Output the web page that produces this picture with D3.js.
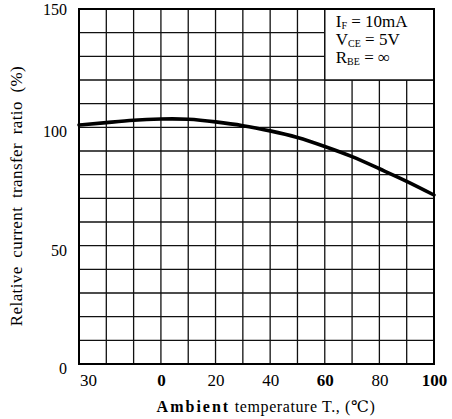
<!DOCTYPE html>
<html>
<head>
<meta charset="utf-8">
<script src="https://cdn.jsdelivr.net/npm/d3@7"></script>
<style>
  body { margin: 0; background: #fff; }
  svg { display: block; font-family: "Liberation Serif", "DejaVu Serif", serif; }
</style>
</head>
<body>
<div id="chart"></div>
<script>
var svgW = 452;
var svgH = 419;

// data
var temps = [-30, -20, -10, 0, 10, 20, 30, 40, 50, 60, 70, 80, 90, 100];
var ratio = [101, 102, 103, 103.5, 103.4, 102.3, 100.7, 98.5, 95.7, 91.9, 87.6, 82.5, 77.2, 71.4];

var xTicks = [-30, 0, 20, 40, 60, 80, 100];
var xTickLabels = ["30", "0", "20", "40", "60", "80", "100"];
var yTicks = [0, 50, 100, 150];
var yTickLabels = ["0", "50", "100", "150"];

var margin = { top: 9, right: 18, bottom: 55, left: 79 };
var width = svgW - margin.left - margin.right;
var height = svgH - margin.top - margin.bottom;

var svg = d3.select("#chart")
  .append("svg")
  .attr("width", svgW)
  .attr("height", svgH);

var chartGroup = svg.append("g")
  .attr("transform", `translate(${margin.left}, ${margin.top})`);

var xScale = d3.scaleLinear().domain([-30, 100]).range([0, width]);
var yScale = d3.scaleLinear().domain([0, 150]).range([height, 0]);

// grid every 10
chartGroup.append("g")
  .selectAll("line")
  .data(d3.range(-20, 100, 10))
  .enter()
  .append("line")
  .attr("x1", d => xScale(d))
  .attr("x2", d => xScale(d))
  .attr("y1", 0)
  .attr("y2", height)
  .attr("stroke", "#111")
  .attr("stroke-width", 1.3);

chartGroup.append("g")
  .selectAll("line")
  .data(d3.range(10, 150, 10))
  .enter()
  .append("line")
  .attr("x1", 0)
  .attr("x2", width)
  .attr("y1", d => yScale(d))
  .attr("y2", d => yScale(d))
  .attr("stroke", "#111")
  .attr("stroke-width", 1.3);

// legend box sits over the grid
chartGroup.append("rect")
  .attr("x", xScale(60))
  .attr("y", 0)
  .attr("width", xScale(100) - xScale(60))
  .attr("height", yScale(120))
  .attr("fill", "#fff")
  .attr("stroke", "#111")
  .attr("stroke-width", 1.5);

// frame
chartGroup.append("rect")
  .attr("width", width)
  .attr("height", height)
  .attr("fill", "none")
  .attr("stroke", "#000")
  .attr("stroke-width", 2);

// curve
var line = d3.line()
  .x((d, i) => xScale(temps[i]))
  .y(d => yScale(d))
  .curve(d3.curveNatural);

chartGroup.append("path")
  .datum(ratio)
  .attr("d", line)
  .attr("fill", "none")
  .attr("stroke", "#000")
  .attr("stroke-width", 3.6)
  .attr("stroke-linecap", "round");

// axes (labels only)
var bottomAxis = d3.axisBottom(xScale)
  .tickValues(xTicks)
  .tickSize(0)
  .tickPadding(10)
  .tickFormat((d, i) => xTickLabels[i]);

var xAxis = chartGroup.append("g")
  .attr("transform", `translate(0, ${height})`)
  .call(bottomAxis);

xAxis.select(".domain").remove();
xAxis.selectAll("text")
  .attr("font-family", "Liberation Serif")
  .attr("font-size", 17)
  .attr("fill", "#000")
  .attr("font-weight", d => (d === 0 || d === 60 || d === 100) ? "bold" : "normal")
  .attr("dx", d => d === -30 ? 9 : 0);

var leftAxis = d3.axisLeft(yScale)
  .tickValues(yTicks)
  .tickSize(0)
  .tickPadding(12)
  .tickFormat((d, i) => yTickLabels[i]);

var yAxis = chartGroup.append("g").call(leftAxis);
yAxis.select(".domain").remove();
yAxis.selectAll("text")
  .attr("font-family", "Liberation Serif")
  .attr("font-size", 16)
  .attr("fill", "#000")
  .attr("dy", d => d === 150 ? "0.32em" : "0.6em");

// legend text
var legendRows = [
  { main: "I", sub: "F", rest: " = 10mA", y: 18 },
  { main: "V", sub: "CE", rest: " = 5V", y: 36 },
  { main: "R", sub: "BE", rest: " = \u221E", y: 54 }
];

legendRows.forEach(r => {
  var t = chartGroup.append("text")
    .attr("x", xScale(60) + 11)
    .attr("y", r.y)
    .attr("font-size", 17)
    .attr("fill", "#000");
  t.append("tspan").text(r.main);
  t.append("tspan").attr("font-size", 10).attr("dy", 2).text(r.sub);
  t.append("tspan").attr("dy", -2).text(r.rest);
});

// axis titles
var xTitle = svg.append("text")
  .attr("x", 266)
  .attr("y", 412)
  .attr("text-anchor", "middle")
  .attr("font-size", 16)
  .attr("fill", "#000");
xTitle.append("tspan").attr("font-weight", "bold").attr("letter-spacing", 2).text("Ambient");
xTitle.append("tspan").attr("letter-spacing", 0.6).text("  temperature T., (\u2103)");

svg.append("text")
  .attr("transform", "translate(22, 196) rotate(-90)")
  .attr("text-anchor", "middle")
  .attr("font-size", 17)
  .attr("letter-spacing", 0.4)
  .attr("word-spacing", 4)
  .attr("fill", "#000")
  .text("Relative current transfer ratio (%)");
</script>
</body>
</html>
